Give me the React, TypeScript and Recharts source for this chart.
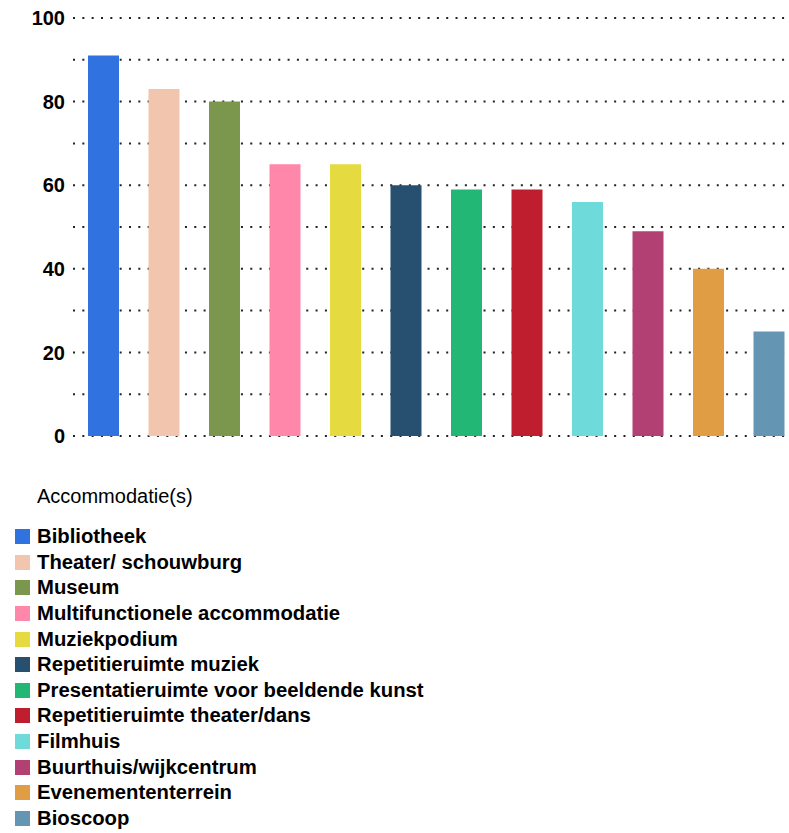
import React from 'react';
import { BarChart, Bar, XAxis, YAxis, CartesianGrid, Cell } from 'recharts';

const categories = [
  'Bibliotheek',
  'Theater/ schouwburg',
  'Museum',
  'Multifunctionele accommodatie',
  'Muziekpodium',
  'Repetitieruimte muziek',
  'Presentatieruimte voor beeldende kunst',
  'Repetitieruimte theater/dans',
  'Filmhuis',
  'Buurthuis/wijkcentrum',
  'Evenemententerrein',
  'Bioscoop',
];
const values = [91, 83, 80, 65, 65, 60, 59, 59, 56, 49, 40, 25];
const colors = [
  '#2f72e0', '#f2c6ae', '#7b964d', '#ff87aa', '#e5da40', '#264f70',
  '#23b776', '#be1e2d', '#6fdada', '#b34072', '#e19d43', '#6496b4',
];
const yTicks = [0, 10, 20, 30, 40, 50, 60, 70, 80, 90, 100];
const legendTitle = 'Accommodatie(s)';

const font = '"Liberation Sans", Arial, Helvetica, sans-serif';

const data = categories.map((name, i) => ({ name, value: values[i] }));

const App: React.FC = () => {
  return (
    <div style={{ position: 'absolute', left: 0, top: 0, width: 789, height: 833, overflow: 'hidden', fontFamily: font }}>
      <BarChart width={800} height={460} data={data} margin={{ top: 18, right: 1, left: 0, bottom: 24 }}>
        <CartesianGrid
          vertical={false}
          stroke="#222"
          strokeWidth={2}
          strokeDasharray="2 7.33"
          horizontal={{ strokeDashoffset: 5.33 }}
        />
        <XAxis dataKey="name" hide />
        <YAxis
          width={73}
          domain={[0, 100]}
          ticks={yTicks}
          interval={0}
          axisLine={false}
          tickLine={false}
          tickSize={0}
          tickMargin={8}
          tickFormatter={(v: number) => (v % 20 === 0 ? String(v) : '')}
          tick={{ fill: '#000', fontSize: 20, fontWeight: 'bold', fontFamily: font }}
        />
        <Bar dataKey="value" barSize={31} isAnimationActive={false}>
          {data.map((d, i) => (
            <Cell key={d.name} fill={colors[i]} />
          ))}
        </Bar>
      </BarChart>
      <div style={{ position: 'absolute', left: 37, top: 484, lineHeight: '25.6px', fontSize: 20, color: '#000' }}>
        {legendTitle}
      </div>
      {categories.map((name, i) => (
        <div
          key={name}
          style={{
            position: 'absolute',
            left: 15,
            top: 524 + i * 25.6,
            height: 25.6,
            display: 'flex',
            alignItems: 'center',
            fontSize: 20.3,
            fontWeight: 'bold',
            color: '#000',
            whiteSpace: 'nowrap',
          }}
        >
          <span style={{ display: 'inline-block', width: 15, height: 15, background: colors[i], marginRight: 7 }} />
          <span>{name}</span>
        </div>
      ))}
    </div>
  );
};

export default App;
